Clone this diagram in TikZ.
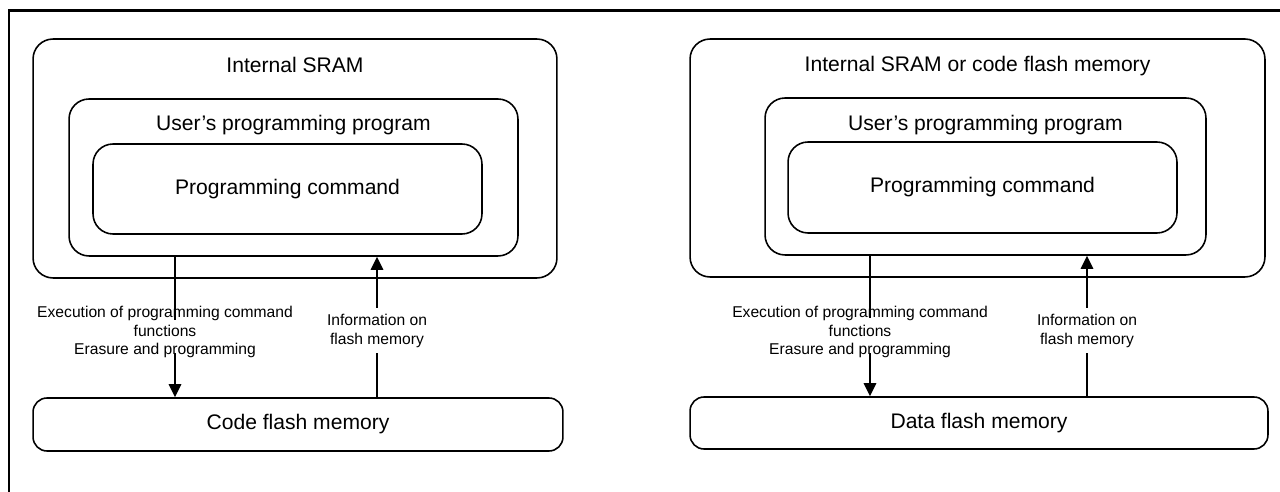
\documentclass[tikz,border=0pt]{standalone}
\usepackage{fontspec}
\setmainfont{Liberation Sans}
\usetikzlibrary{arrows.meta,positioning}

\begin{document}
\begin{tikzpicture}[
      x=0.02cm, y=-0.02cm,
      mem/.style={draw, rectangle, rounded corners=0.4cm, inner sep=0pt, line width=0.9pt},
      cmdbox/.style={mem, font=\fontsize{12}{14}\selectfont},
      flash/.style={mem, rounded corners=0.28cm, font=\fontsize{12}{14}\selectfont},
      title/.style={font=\fontsize{12}{14}\selectfont, inner sep=0pt},
      lbl/.style={font=\fontsize{8.9}{10.5}\selectfont, align=center, inner sep=0pt},
      link/.style={line width=0.9pt},
      arrow/.style={link, -{Triangle[length=0.26cm, width=0.25cm]}},
    ]
    \useasboundingbox (0,0) rectangle (1280,492);

    % frame
    \draw[line width=0.06cm] (9,492) |- (1280,10.5);

    % left side: internal SRAM
    \node[mem, minimum width=10.48cm, minimum height=4.78cm] (sramA) at (295,158.5) {};
    \node[mem, minimum width=8.98cm, minimum height=3.14cm] (userA) at (293.5,177.5) {};
    \node[cmdbox, minimum width=7.78cm, minimum height=1.8cm] (cmdA) at (287.5,189) {Programming command};
    \node[flash, minimum width=10.6cm, minimum height=1.06cm] (flashA) at (298,424.5) {Code flash memory};
    \node[title] (sramAt) at (295,64.5) {Internal SRAM};
    \node[title] (userAt) at (293.5,125.5) {User’s programming program};

    % right side: internal SRAM or code flash
    \node[mem, minimum width=11.5cm, minimum height=4.76cm] (sramB) at (977.5,158) {};
    \node[mem, minimum width=8.82cm, minimum height=3.14cm] (userB) at (985.5,176.5) {};
    \node[cmdbox, minimum width=7.78cm, minimum height=1.82cm] (cmdB) at (982.5,187.5) {Programming command};
    \node[flash, minimum width=11.56cm, minimum height=1.04cm] (flashB) at (979,423) {Data flash memory};
    \node[title] (sramBt) at (977.5,66.5) {Internal SRAM or code flash memory};
    \node[title] (userBt) at (985.5,125) {User’s programming program};

    % labels
    \node[lbl] (execA) at (165,332) {Execution of programming command\\functions\\Erasure and programming};
    \node[lbl] (infoA) at (377,331) {Information on\\flash memory};
    \node[lbl] (execB) at (860,332) {Execution of programming command\\functions\\Erasure and programming};
    \node[lbl] (infoB) at (1087,331) {Information on\\flash memory};

    % arrow columns and gaps
    \coordinate (dnA) at (175,0);
    \coordinate (upA) at (377,0);
    \coordinate (dnB) at (870,0);
    \coordinate (upB) at (1087,0);
    \coordinate (dA1) at (175,320);
    \coordinate (dA2) at (175,353);
    \coordinate (uA1) at (377,308);
    \coordinate (uA2) at (377,353);
    \coordinate (dB1) at (870,318);
    \coordinate (dB2) at (870,353);
    \coordinate (uB1) at (1087,308);
    \coordinate (uB2) at (1087,353);

    % down: commands
    \draw[link] (userA.south -| dnA) -- (dA1);
    \draw[arrow] (dA2) -- (flashA.north -| dnA);
    \draw[link] (userB.south -| dnB) -- (dB1);
    \draw[arrow] (dB2) -- (flashB.north -| dnB);

    % up: information
    \draw[link] (flashA.north -| upA) -- (uA2);
    \draw[arrow] (uA1) -- (userA.south -| upA);
    \draw[link] (flashB.north -| upB) -- (uB2);
    \draw[arrow] (uB1) -- (userB.south -| upB);
  \end{tikzpicture}
\end{document}
